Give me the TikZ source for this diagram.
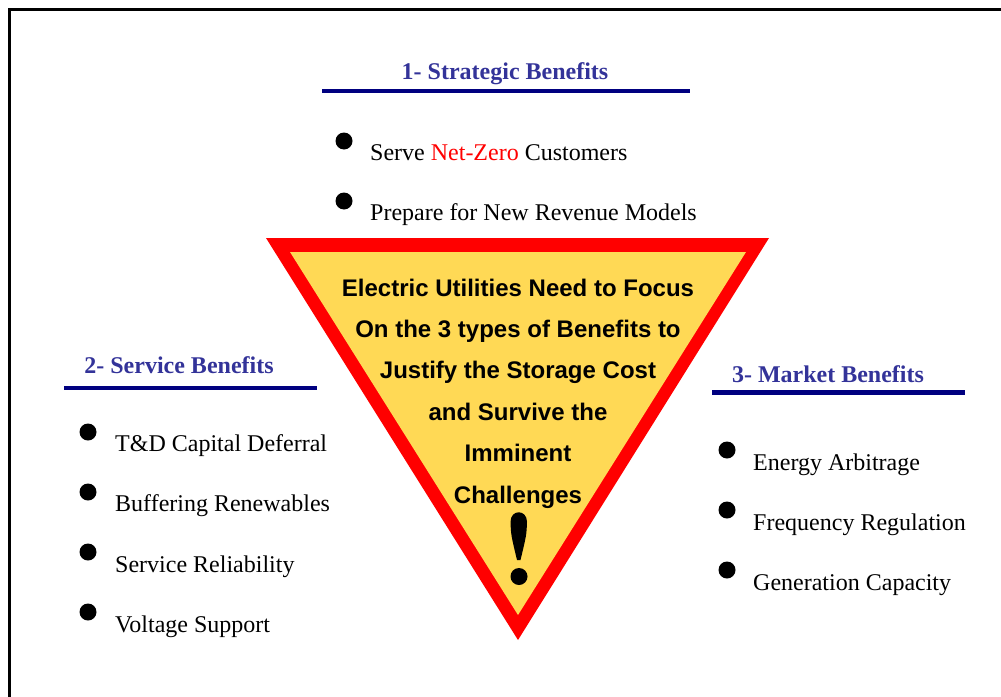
\documentclass[tikz,border=0pt]{standalone}
\usepackage{fontspec}
\setmainfont{Liberation Serif}
\newfontfamily\arialfont{Liberation Sans}
\definecolor{headblue}{HTML}{333399}
\definecolor{rulenavy}{HTML}{000080}
\definecolor{signred}{HTML}{FF0000}
\definecolor{signyellow}{HTML}{FFD955}
\tikzset{x=1pt, y=-1pt,
    heading/.style={font=\fontsize{24}{28}\selectfont\bfseries, text=headblue, anchor=base, inner sep=0pt},
    headrule/.style={rulenavy, line width=4.5pt},
    bullet/.style={circle, fill=black, minimum size=17pt, inner sep=0pt},
    item/.style={font=\fontsize{24}{28}\selectfont, anchor=base west, inner sep=0pt},
    signtext/.style={font=\arialfont\bfseries\fontsize{24}{28}\selectfont, anchor=base, inner sep=0pt},
    }

\begin{document}
\begin{tikzpicture}
	\useasboundingbox (0,0) rectangle (1001,696);
	% frame, only left and top edges show
	\draw[line width=2.5pt] (9.5,700) |- (1005,9.5);
	% warning sign
	\fill[signred] (266,238) -- (769,238) -- (518,640) -- cycle;
	\fill[signyellow] (290,252) -- (746,252) -- (518,615) -- cycle;
	\foreach \txt [count=\i] in {Electric Utilities Need to Focus,
		On the 3 types of Benefits to, Justify the Storage Cost,
		and Survive the, Imminent, Challenges}
		\node[signtext] (sign\i) at (518,{296+41.4*(\i-1)}) {\txt};
	% exclamation mark
	\fill (510.5,522) .. controls (510.5,509) and (527,509) .. (527,522)
		.. controls (526.5,535) .. (520.5,560) -- (517,560)
		.. controls (511,535) .. (510.5,522) -- cycle;
	\node[circle, fill=black, minimum size=17pt, inner sep=0pt] (bang) at (519,576.5) {};
	% 1- strategic
	\node[heading] (strat) at (505,79) {1- Strategic Benefits};
	\draw[headrule] (322,91) -- (690,91);
	\node[bullet] (sb1) at (344,141) {};
	\node[item] (st1) at (370,160) {Serve \textcolor{signred}{Net-Zero} Customers};
	\node[bullet] (sb2) at (344,201) {};
	\node[item] (st2) at (370,220) {Prepare for New Revenue Models};
	% 2- service
	\node[heading] (serv) at (179,373) {2- Service Benefits};
	\draw[headrule] (64,388) -- (317,388);
	\foreach \txt [count=\i] in {T\&D Capital Deferral, Buffering Renewables,
		Service Reliability, Voltage Support}
	{
		\node[bullet] (vb\i) at (88,{432+60*(\i-1)}) {};
		\node[item] (vt\i) at (115,{451+60.5*(\i-1)}) {\txt};
	}
	% 3- market
	\node[heading] (mark) at (828,382) {3- Market Benefits};
	\draw[headrule] (712,392.5) -- (965,392.5);
	\foreach \txt [count=\i] in {Energy Arbitrage, Frequency Regulation,
		Generation Capacity}
	{
		\node[bullet] (mb\i) at (727,{450+60*(\i-1)}) {};
		\node[item] (mt\i) at (753,{470+60*(\i-1)}) {\txt};
	}
\end{tikzpicture}
\end{document}
